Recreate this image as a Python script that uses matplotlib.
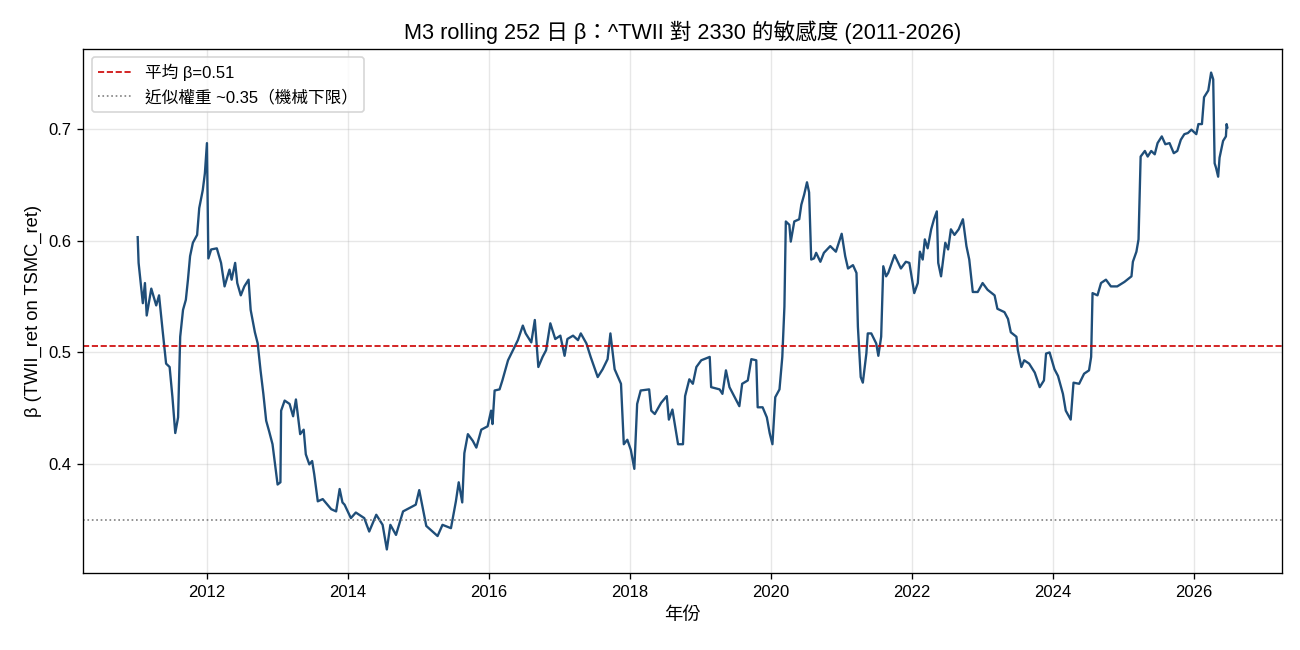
import datetime as dt
import matplotlib.pyplot as plt
import matplotlib.dates as mdates

plt.rcParams['font.family'] = ['Liberation Sans', 'Noto Sans CJK TC', 'DejaVu Sans']

# rolling beta (decimal year, beta)
years = [
    2011.017, 2011.03, 2011.09, 2011.12, 2011.145, 2011.21, 2011.28, 2011.32, 2011.37, 2011.42,
    2011.47, 2011.51, 2011.55, 2011.59, 2011.62, 2011.66, 2011.70, 2011.73, 2011.76, 2011.80,
    2011.86, 2011.89, 2011.94, 2011.97, 2012.00, 2012.02, 2012.06, 2012.14, 2012.20, 2012.25,
    2012.32, 2012.35, 2012.40, 2012.43, 2012.48, 2012.53, 2012.59, 2012.62, 2012.68, 2012.72,
    2012.76, 2012.80, 2012.84, 2012.88, 2012.93, 2012.96, 2013.00, 2013.04, 2013.05, 2013.10,
    2013.17, 2013.22, 2013.26, 2013.32, 2013.37, 2013.40, 2013.45, 2013.49, 2013.52, 2013.57,
    2013.64, 2013.76, 2013.83, 2013.88, 2013.92, 2013.95, 2014.04, 2014.11, 2014.23, 2014.30,
    2014.40, 2014.49, 2014.55, 2014.60, 2014.68, 2014.78, 2014.87, 2014.96, 2015.01, 2015.11,
    2015.27, 2015.34, 2015.46, 2015.53, 2015.57, 2015.62, 2015.65, 2015.70, 2015.77, 2015.82,
    2015.89, 2015.98, 2016.03, 2016.05, 2016.08, 2016.15, 2016.19, 2016.27, 2016.34, 2016.41,
    2016.48, 2016.52, 2016.60, 2016.65, 2016.70, 2016.76, 2016.81, 2016.87, 2016.94, 2017.01,
    2017.07, 2017.11, 2017.19, 2017.26, 2017.30, 2017.38, 2017.44, 2017.54, 2017.61, 2017.68,
    2017.72, 2017.78, 2017.87, 2017.91, 2017.96, 2018.01, 2018.06, 2018.10, 2018.15, 2018.27,
    2018.30, 2018.35, 2018.44, 2018.52, 2018.55, 2018.60, 2018.68, 2018.75, 2018.78, 2018.84,
    2018.89, 2018.94, 2019.01, 2019.13, 2019.15, 2019.27, 2019.31, 2019.36, 2019.41, 2019.46,
    2019.55, 2019.59, 2019.67, 2019.72, 2019.79, 2019.81, 2019.88, 2019.94, 2019.98, 2020.02,
    2020.06, 2020.12, 2020.16, 2020.19, 2020.21, 2020.26, 2020.28, 2020.33, 2020.40, 2020.43,
    2020.47, 2020.51, 2020.54, 2020.57, 2020.61, 2020.64, 2020.70, 2020.75, 2020.84, 2020.92,
    2021.00, 2021.05, 2021.09, 2021.16, 2021.21, 2021.23, 2021.27, 2021.30, 2021.35, 2021.37,
    2021.42, 2021.49, 2021.52, 2021.56, 2021.59, 2021.63, 2021.66, 2021.75, 2021.84, 2021.91,
    2021.96, 2022.03, 2022.08, 2022.11, 2022.15, 2022.18, 2022.22, 2022.27, 2022.31, 2022.35,
    2022.37, 2022.41, 2022.47, 2022.51, 2022.55, 2022.60, 2022.66, 2022.72, 2022.77, 2022.81,
    2022.86, 2022.93, 2023.00, 2023.07, 2023.17, 2023.21, 2023.31, 2023.36, 2023.40, 2023.48,
    2023.50, 2023.55, 2023.59, 2023.66, 2023.74, 2023.81, 2023.87, 2023.90, 2023.95, 2024.02,
    2024.07, 2024.14, 2024.18, 2024.25, 2024.29, 2024.37, 2024.44, 2024.51, 2024.54, 2024.56,
    2024.63, 2024.68, 2024.75, 2024.82, 2024.91, 2025.01, 2025.11, 2025.13, 2025.18, 2025.21,
    2025.24, 2025.30, 2025.34, 2025.39, 2025.44, 2025.48, 2025.54, 2025.59, 2025.65, 2025.71,
    2025.76, 2025.81, 2025.86, 2025.91, 2025.96, 2026.03, 2026.06, 2026.11, 2026.14, 2026.20,
    2026.24, 2026.27, 2026.29, 2026.31, 2026.34, 2026.36, 2026.41, 2026.45, 2026.46, 2026.47,
]
beta = [
    0.603, 0.580, 0.544, 0.562, 0.533, 0.557, 0.542, 0.551, 0.520, 0.490,
    0.487, 0.460, 0.428, 0.442, 0.514, 0.538, 0.547, 0.565, 0.586, 0.598,
    0.605, 0.629, 0.645, 0.660, 0.687, 0.584, 0.592, 0.593, 0.580, 0.559,
    0.574, 0.565, 0.580, 0.562, 0.551, 0.559, 0.565, 0.538, 0.518, 0.508,
    0.484, 0.463, 0.439, 0.430, 0.418, 0.403, 0.382, 0.384, 0.448, 0.457,
    0.454, 0.443, 0.458, 0.427, 0.431, 0.409, 0.400, 0.403, 0.391, 0.367,
    0.369, 0.360, 0.358, 0.378, 0.366, 0.364, 0.352, 0.357, 0.352, 0.340,
    0.355, 0.346, 0.324, 0.346, 0.337, 0.358, 0.361, 0.364, 0.377, 0.345,
    0.336, 0.346, 0.343, 0.367, 0.384, 0.366, 0.410, 0.427, 0.421, 0.415,
    0.431, 0.434, 0.448, 0.436, 0.466, 0.467, 0.475, 0.493, 0.502, 0.511,
    0.524, 0.517, 0.509, 0.529, 0.487, 0.496, 0.502, 0.526, 0.512, 0.515,
    0.497, 0.512, 0.515, 0.511, 0.517, 0.508, 0.496, 0.478, 0.485, 0.494,
    0.517, 0.485, 0.472, 0.418, 0.422, 0.413, 0.396, 0.454, 0.466, 0.467,
    0.448, 0.445, 0.455, 0.461, 0.440, 0.449, 0.418, 0.418, 0.461, 0.476,
    0.472, 0.487, 0.493, 0.496, 0.469, 0.467, 0.463, 0.484, 0.469, 0.463,
    0.452, 0.472, 0.475, 0.494, 0.493, 0.451, 0.451, 0.442, 0.428, 0.418,
    0.460, 0.467, 0.496, 0.541, 0.617, 0.614, 0.599, 0.617, 0.619, 0.632,
    0.641, 0.652, 0.643, 0.583, 0.584, 0.589, 0.581, 0.589, 0.595, 0.590,
    0.606, 0.586, 0.575, 0.578, 0.571, 0.523, 0.478, 0.473, 0.499, 0.517,
    0.517, 0.508, 0.497, 0.514, 0.577, 0.568, 0.571, 0.587, 0.575, 0.581,
    0.580, 0.553, 0.562, 0.590, 0.583, 0.601, 0.593, 0.610, 0.619, 0.626,
    0.580, 0.568, 0.598, 0.592, 0.610, 0.605, 0.610, 0.619, 0.595, 0.583,
    0.554, 0.554, 0.562, 0.556, 0.551, 0.539, 0.536, 0.530, 0.518, 0.514,
    0.502, 0.487, 0.493, 0.490, 0.482, 0.469, 0.475, 0.499, 0.500, 0.485,
    0.479, 0.463, 0.448, 0.440, 0.473, 0.472, 0.481, 0.484, 0.496, 0.553,
    0.551, 0.562, 0.565, 0.559, 0.559, 0.563, 0.568, 0.581, 0.590, 0.601,
    0.675, 0.680, 0.675, 0.680, 0.677, 0.687, 0.693, 0.686, 0.687, 0.678,
    0.680, 0.690, 0.695, 0.696, 0.699, 0.695, 0.704, 0.704, 0.728, 0.734,
    0.750, 0.744, 0.669, 0.665, 0.657, 0.674, 0.689, 0.693, 0.704, 0.701,
]
mean_beta = 0.506
floor_beta = 0.35


def to_date(y):
    yr = int(y)
    return dt.datetime(yr, 1, 1) + dt.timedelta(days=(y - yr) * 365.25)


dates = [to_date(y) for y in years]

fig, ax = plt.subplots(figsize=(13 / 1.2, 6.5 / 1.2), dpi=120)
fig.subplots_adjust(left=0.064, right=0.986, top=0.925, bottom=0.118)

ax.plot(dates, beta, color='#1f4e79', lw=1.4)
ax.axhline(mean_beta, color='#cc0000', ls='--', lw=1.0, label=f'平均 β={mean_beta:.2f}')
ax.axhline(floor_beta, color='gray', ls=':', lw=1.0, label='近似權重 ~0.35（機械下限）')

ax.set_title('M3 rolling 252 日 β：^TWII 對 2330 的敏感度 (2011-2026)', fontsize=13)
ax.set_xlabel('年份', fontsize=11)
ax.set_ylabel('β (TWII_ret on TSMC_ret)', fontsize=11)
ax.set_yticks([0.4, 0.5, 0.6, 0.7])
ax.xaxis.set_major_locator(mdates.YearLocator(2))
ax.xaxis.set_major_formatter(mdates.DateFormatter('%Y'))
ax.tick_params(labelsize=10)
ax.grid(True, alpha=0.3)
ax.legend(loc='upper left', fontsize=10)

fig.savefig('out.png')
